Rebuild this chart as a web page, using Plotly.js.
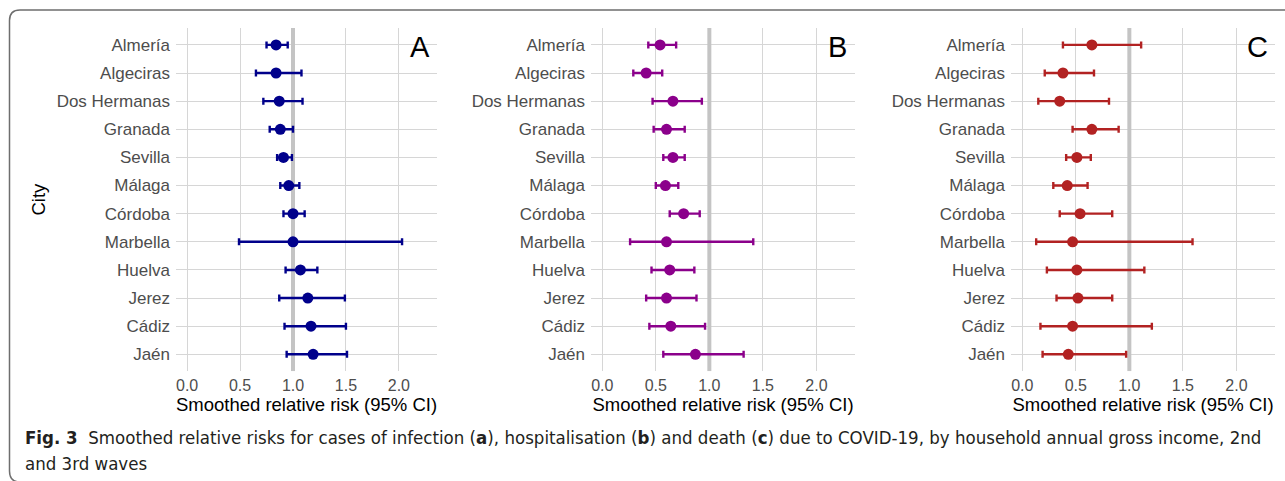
<!DOCTYPE html>
<html>
<head>
<meta charset="utf-8">
<script src="https://cdn.plot.ly/plotly-3.0.1.min.js"></script>
<style>html,body{margin:0;padding:0;background:#fff;}#chart{width:1285px;height:481px;}</style>
</head>
<body>
<div id="chart"></div>
<script>
const cities = ["Almería","Algeciras","Dos Hermanas","Granada","Sevilla","Málaga","Córdoba","Marbella","Huelva","Jerez","Cádiz","Jaén"];

const infectionRR = [0.84,0.84,0.87,0.88,0.91,0.96,1.00,1.00,1.07,1.14,1.17,1.19];
const infectionLo = [0.75,0.65,0.72,0.78,0.85,0.88,0.91,0.49,0.93,0.87,0.92,0.94];
const infectionHi = [0.95,1.08,1.09,1.00,0.99,1.06,1.11,2.03,1.23,1.49,1.50,1.51];

const hospRR = [0.54,0.41,0.66,0.60,0.66,0.59,0.76,0.60,0.63,0.60,0.64,0.87];
const hospLo = [0.43,0.29,0.47,0.48,0.57,0.50,0.63,0.26,0.46,0.41,0.44,0.57];
const hospHi = [0.69,0.56,0.93,0.77,0.77,0.71,0.91,1.41,0.86,0.88,0.96,1.32];

const deathRR = [0.65,0.38,0.35,0.65,0.51,0.42,0.54,0.47,0.51,0.52,0.47,0.43];
const deathLo = [0.38,0.21,0.15,0.47,0.41,0.29,0.35,0.13,0.23,0.32,0.17,0.19];
const deathHi = [1.11,0.67,0.81,0.90,0.64,0.61,0.84,1.59,1.14,0.84,1.21,0.97];

const xTickVals = [0, 0.5, 1, 1.5, 2];
const xTickText = ["0.0","0.5","1.0","1.5","2.0"];
const panelLetters = ["A","B","C"];
const refValue = [1];
const xTitle = "Smoothed relative risk (95% CI)";
const yTitle = "City";

const panels = [
  {est: infectionRR, lo: infectionLo, hi: infectionHi, color: "#00008B", dom: [176/1285, 437/1285]},
  {est: hospRR, lo: hospLo, hi: hospHi, color: "#8B008B", dom: [591/1285, 855/1285]},
  {est: deathRR, lo: deathLo, hi: deathHi, color: "#B22222", dom: [1011/1285, 1275/1285]}
];

const FONT = "Liberation Sans, Arial, sans-serif";
const yDom = [1 - 371.2/481, 1 - 28/481];
const traces = [];
const layout = {
  width: 1285, height: 481,
  margin: {l: 0, r: 0, t: 0, b: 0},
  paper_bgcolor: "#ffffff", plot_bgcolor: "#ffffff",
  showlegend: false,
  font: {family: FONT, color: "#4d4d4d"},
  shapes: [], annotations: []
};

panels.forEach((p, i) => {
  const n = i === 0 ? "" : String(i + 1);
  // reference line at RR = 1, spanning the whole category range
  traces.push({
    type: "scatter", mode: "lines",
    x: [refValue[0], refValue[0]], y: [-0.6, 11.6],
    xaxis: "x" + n, yaxis: "y" + n,
    line: {color: "#c4c4c4", width: 4},
    hoverinfo: "skip"
  });
  traces.push({
    type: "scatter", mode: "markers",
    x: p.est, y: cities.map((c, k) => k),
    xaxis: "x" + n, yaxis: "y" + n,
    marker: {color: p.color, size: 11},
    error_x: {
      type: "data", symmetric: false,
      array: p.hi.map((h, k) => h - p.est[k]),
      arrayminus: p.lo.map((l, k) => p.est[k] - l),
      color: p.color, thickness: 2.4, width: 3.5
    },
    text: cities, hoverinfo: "x+text"
  });
  layout["xaxis" + n] = {
    domain: p.dom, anchor: "y" + n,
    range: [-0.105, 2.36],
    tickvals: xTickVals, ticktext: xTickText,
    showgrid: true, gridcolor: "#d6d6d6", gridwidth: 1.4,
    zeroline: false, showline: false, ticks: "",
    tickfont: {size: 16, color: "#4d4d4d", family: FONT},
    ticklabelstandoff: 3,
    title: {text: xTitle, font: {size: 18.5, color: "#000000", family: FONT}, standoff: 2}
  };
  layout["yaxis" + n] = {
    domain: yDom, anchor: "x" + n,
    range: [11.6, -0.6],
    tickvals: cities.map((c, k) => k), ticktext: cities,
    showgrid: true, gridcolor: "#d6d6d6", gridwidth: 1.4,
    zeroline: false, showline: false, ticks: "",
    tickfont: {size: 17, color: "#4d4d4d", family: FONT},
    ticklabelstandoff: 5,
    title: i === 0 ? {text: yTitle, font: {size: 18.5, color: "#000000", family: FONT}, standoff: 6} : {text: ""}
  };
  layout.annotations.push({
    xref: "x" + n + " domain", yref: "y" + n + " domain",
    x: 0.935, y: 0.945, xanchor: "center", yanchor: "middle",
    text: panelLetters[i], showarrow: false,
    font: {size: 29, color: "#000000", family: FONT}
  });
});

// outer frame
const px = v => v / 1285, py = v => 1 - v / 481;
layout.shapes.push({
  type: "path", xref: "paper", yref: "paper",
  path: `M 1.01,${py(10)} L ${px(20)},${py(10)} Q ${px(9.5)},${py(10)} ${px(9.5)},${py(20.5)} L ${px(9.5)},${py(471)} Q ${px(9.5)},${py(482)} ${px(20)},${py(482)} L 1.01,${py(482)}`,
  line: {color: "#6e6e6e", width: 1.5}
});

const CAP_FONT = "Liberation Sans Narrow, DejaVu Sans Condensed, Liberation Sans, sans-serif";
layout.annotations.push({
  xref: "paper", yref: "paper", x: px(23), y: py(437), xanchor: "left", yanchor: "middle",
  showarrow: false, align: "left",
  text: "<b>Fig. 3</b>  Smoothed relative risks for cases of infection (<b>a</b>), hospitalisation (<b>b</b>) and death (<b>c</b>) due to COVID-19, by household annual gross income, 2nd",
  font: {size: 18.5, color: "#231f20", family: CAP_FONT}
});
layout.annotations.push({
  xref: "paper", yref: "paper", x: px(23), y: py(463), xanchor: "left", yanchor: "middle",
  showarrow: false, align: "left",
  text: "and 3rd waves",
  font: {size: 18.5, color: "#231f20", family: CAP_FONT}
});

Plotly.newPlot("chart", traces, layout, {displayModeBar: false, responsive: false});
</script>
</body>
</html>
